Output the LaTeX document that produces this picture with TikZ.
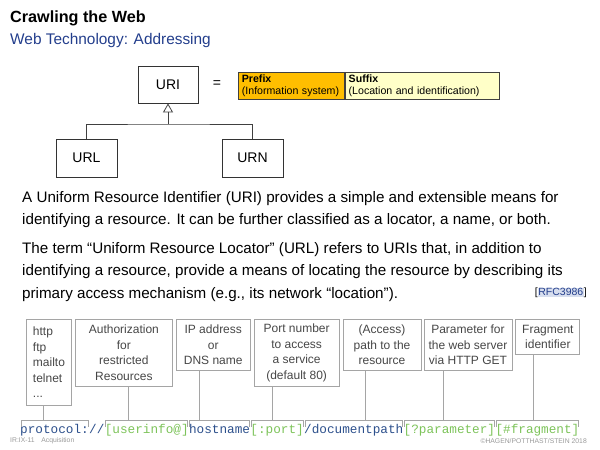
\documentclass[tikz,border=0pt]{standalone}
\usepackage{fontspec}
\setmainfont{Liberation Sans}
\setmonofont{Liberation Mono}
\usepackage{xcolor}
\definecolor{navy}{RGB}{35, 62, 140}
\definecolor{urlblue}{RGB}{45, 80, 140}
\definecolor{urlgreen}{RGB}{125, 195, 90}
\definecolor{amber}{RGB}{255, 190, 0}
\definecolor{cream}{RGB}{255, 255, 200}
\definecolor{lgray}{RGB}{165, 165, 165}
\definecolor{dgray}{RGB}{70, 70, 70}
\definecolor{rfcbg}{RGB}{215, 222, 238}
\usetikzlibrary{arrows.meta, positioning, calc}
\setlength{\fboxsep}{0.6pt}
\tikzset{
  classbox/.style={draw=black!80, line width=0.8pt,
    minimum width=60pt, minimum height=37pt, font=\fontsize{14}{16}\selectfont},
  tagbox/.style={draw=black!75, line width=0.8pt, anchor=north west,
    minimum height=27pt, inner xsep=3.5pt, inner ysep=1pt, align=left,
    font=\fontsize{10.6}{12}\selectfont},
  partbox/.style={draw=lgray, line width=0.9pt, anchor=north west,
    align=center, inner sep=2pt, text=dgray,
    font=\fontsize{12}{15.5}\selectfont},
  bodytext/.style={anchor=north west, align=left, inner sep=0pt,
    font=\fontsize{15.2}{22.5}\selectfont},
  urlpart/.style={inner xsep=0pt, inner ysep=1pt, text height=11pt,
    text depth=3pt, font=\ttfamily\fontsize{12.7}{14}\selectfont},
  footnote/.style={inner sep=0pt, text=black!40,
    font=\fontsize{6.8}{8}\selectfont},
  tree/.style={draw=black!75, line width=0.8pt},
  brk/.style={draw=lgray, line width=0.8pt},
  link/.style={draw=lgray, line width=0.9pt}
}

\begin{document}
\begin{tikzpicture}[x=1pt, y=-1pt]
  \useasboundingbox (0,0) rectangle (600,450);

  %% Heading
  \node[anchor=west, inner sep=0pt, font=\bfseries\fontsize{16.2}{18}\selectfont]
    (title) at (10,18) {Crawling the Web};
  \node[anchor=west, inner sep=0pt, text=navy, font=\fontsize{15.4}{17}\selectfont]
    (subtitle) at (10,41) {Web Technology: Addressing};

  %% Class hierarchy
  \node[classbox] (uri) at (168,84.5) {URI};
  \node[classbox, minimum width=61pt, minimum height=38pt] (url) at (86.5,158) {URL};
  \node[classbox, minimum width=61pt, minimum height=38pt] (urn) at (252.5,158) {URN};
  \coordinate (fork) at (168,124);
  \draw[tree] (url.north) |- (fork) -| (urn.north);
  \draw[tree, -{Triangle[open, length=9pt, width=10pt]}] (fork) -- (uri.south);

  %% URI = prefix + suffix
  \node[font=\fontsize{14}{16}\selectfont] (eq) at (217,84) {=};
  \node[tagbox, fill=amber, text width=99pt] (prefix) at (238,72)
    {\textbf{Prefix}\\(Information system)};
  \node[tagbox, fill=cream, text width=147pt, right=0pt of prefix.north east,
    anchor=north west] (suffix)
    {\textbf{Suffix}\\(Location and identification)};

  %% Definitions
  \node[bodytext] (para1) at (22,191)
    {A Uniform Resource Identifier (URI) provides a simple and extensible means for\\
     identifying a resource. It can be further classified as a locator, a name, or both.};
  \node[bodytext] (para2) at (22,242)
    {The term “Uniform Resource Locator” (URL) refers to URIs that, in addition to\\
     identifying a resource, provide a means of locating the resource by describing its\\
     primary access mechanism (e.g., its network “location”).};
  \node[anchor=east, inner sep=0pt, font=\fontsize{10.5}{12}\selectfont]
    (rfc) at (587,293) {[\colorbox{rfcbg}{\color{navy}RFC3986}]};

  %% Parts of a URL
  \node[partbox, align=left, minimum width=45pt, minimum height=86pt] (pbox)
    at (26,319) {http\\ftp\\mailto\\telnet\\...};
  \node[partbox, minimum width=97pt, minimum height=67pt,
    right=3pt of pbox.north east, anchor=north west] (abox)
    {Authorization\\for\\restricted\\Resources};
  \node[partbox, minimum width=74pt, minimum height=51pt,
    right=3pt of abox.north east, anchor=north west] (ipbox)
    {IP address\\or\\DNS name};
  \node[partbox, minimum width=85pt, minimum height=67pt,
    right=3pt of ipbox.north east, anchor=north west] (portbox)
    {Port number\\to access\\a service\\(default 80)};
  \node[partbox, minimum width=78pt, minimum height=51pt,
    right=3pt of portbox.north east, anchor=north west] (pathbox)
    {(Access)\\path to the\\resource};
  \node[partbox, minimum width=88pt, minimum height=51pt,
    right=2pt of pathbox.north east, anchor=north west] (parbox)
    {Parameter for\\the web server\\via HTTP GET};
  \node[partbox, minimum width=64pt, minimum height=35pt,
    right=3pt of parbox.north east, anchor=north west] (fragbox)
    {Fragment\\identifier};

  %% URL syntax
  \node[urlpart, text=urlblue, anchor=base west] (proto) at (20,433) {protocol:};
  \node[urlpart, text=urlblue, right=0pt of proto] (slashes) {//};
  \node[urlpart, text=urlgreen, right=0pt of slashes] (user) {[userinfo@]};
  \node[urlpart, text=urlblue, right=0pt of user] (host) {hostname};
  \node[urlpart, text=urlgreen, right=0pt of host] (port) {[:port]};
  \node[urlpart, text=urlblue, right=0pt of port] (path) {/documentpath};
  \node[urlpart, text=urlgreen, right=0pt of path] (param) {[?parameter]};
  \node[urlpart, text=urlgreen, right=0pt of param] (frag) {[\#fragment]};

  \foreach \p in {proto,user,host,port,path,param,frag}
    \draw[brk] ([xshift=1pt,yshift=-6pt]\p.north west) -- ([xshift=1pt]\p.north west)
      -- ([xshift=-1pt]\p.north east) -- ([xshift=-1pt,yshift=-6pt]\p.north east);

  \foreach \b/\x [count=\i] in {pbox/43, abox/128, ipbox/199, portbox/272,
      pathbox/365, parbox/443, fragbox/533} {
    \coordinate (tap\i) at (\x,421);
    \draw[link] (\b.south -| tap\i) -- (tap\i);
  }

  %% Footer
  \node[footnote, anchor=west] (slideno) at (10,441) {IR:IX-11\quad Acquisition};
  \node[footnote, anchor=east] (copyright) at (587,441) {©HAGEN/POTTHAST/STEIN 2018};
\end{tikzpicture}
\end{document}
